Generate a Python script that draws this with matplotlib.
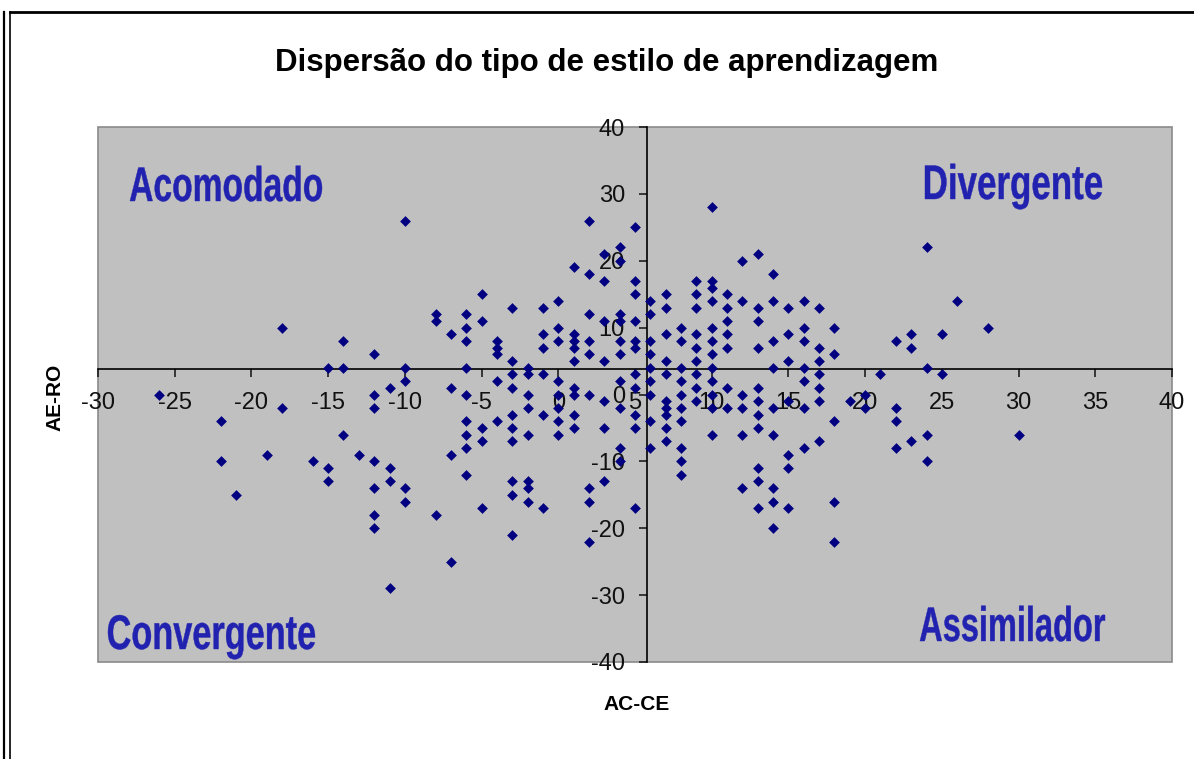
import matplotlib
matplotlib.use('Agg')
import matplotlib.pyplot as plt
from matplotlib.lines import Line2D
from matplotlib.patches import Rectangle, PathPatch
from matplotlib.textpath import TextPath
from matplotlib.font_manager import FontProperties
from matplotlib.transforms import Affine2D

# ---- data (AC-CE, AE-RO) ----
ac_ce = [
    -18, -14, -15, -14, -12, -10, -10, -10, -8, -8, -7,
    -6, -6, -6, -6, -5, -5, -4, -4, -4, -4, -3, -3, -3, -2, -2,
    -1, -1, -1, -1, 0, 0, 0, 0, 1, 1, 1, 1, 1,
    2, 2, 2, 2, 2, 3, 3, 3, 3, 4, 4, 4, 4, 4, 4, 4,
    5, 5, 5, 5, 5, 5, 5,
    10, 12, 13, 14,
    6, 6, 6, 6, 6, 6, 7, 7, 7, 7, 7, 8, 8, 8, 8,
    9, 9, 9, 9, 9, 9, 9, 10, 10, 10, 10, 10, 10, 10, 10,
    11, 11, 11, 11, 11, 12, 13, 13, 13, 14, 14, 14, 15, 15, 15,
    16, 16, 16, 16, 16, 17, 17, 17, 17, 18, 18, 21, 22, 23, 23,
    24, 26, 25, 28, 24, 25,
    -26, -22, -22, -21, -19, -18, -16, -15, -15, -14, -13,
    -12, -12, -11, -7, -6, -3, -2, 0, 1, 1, 2, 3, 4, 5, 5, 5,
    -12, -12, -12, -12, -11, -11, -11, -10, -10, -8, -7, -7,
    -6, -6, -6, -6, -5, -5, -5, -4,
    -3, -3, -3, -3, -3, -3, -2, -2, -2, -2, -2, -1, -1,
    0, 0, 0, 1, 1, 2, 2, 2, 3, 3, 4, 4, 5,
    6, 6, 6, 7, 7, 7, 7, 7, 8, 8, 8, 8, 8, 8, 9, 9,
    10, 10, 10, 11, 11, 12, 12, 12, 12,
    13, 13, 13, 13, 13, 13, 13, 14, 14, 14, 14, 14,
    15, 15, 15, 15, 16, 16, 17, 17, 17, 18, 18, 18,
    19, 20, 20, 22, 22, 22, 23, 24, 24, 30,
]
ae_ro = [
    10, 8, 4, 4, 6, 26, 4, 2, 12, 11, 9,
    12, 10, 8, 4, 15, 11, 8, 7, 6, 2, 13, 5, 3, 4, 3,
    13, 9, 7, 3, 14, 10, 8, 2, 19, 9, 8, 7, 5,
    26, 18, 12, 8, 6, 21, 17, 11, 5, 22, 20, 12, 11, 8, 6, 2,
    25, 17, 15, 11, 8, 7, 3,
    28, 20, 21, 18,
    14, 12, 8, 6, 4, 2, 15, 13, 9, 5, 3, 10, 8, 4, 2,
    17, 15, 13, 9, 7, 5, 3, 17, 16, 14, 10, 8, 6, 4, 2,
    15, 13, 11, 9, 7, 14, 13, 11, 7, 14, 8, 4, 13, 9, 5,
    14, 10, 8, 4, 2, 13, 7, 5, 3, 10, 6, 3, 8, 9, 7,
    22, 14, 9, 10, 4, 3,
    0, -4, -10, -15, -9, -2, -10, -11, -13, -6, -9,
    0, -2, 1, 1, 0, 1, 0, 0, 1, 0, 0, -1, -2, 1, -3, -5,
    -10, -14, -18, -20, -11, -13, -29, -14, -16, -18, -9, -25,
    -4, -6, -8, -12, -5, -7, -17, -4,
    -3, -5, -7, -13, -15, -21, -2, -6, -13, -14, -16, -3, -17,
    -2, -4, -6, -3, -5, -14, -16, -22, -5, -13, -8, -10, -17,
    0, -4, -8, -1, -2, -3, -5, -7, 0, -2, -4, -8, -10, -12, 1, -1,
    0, -2, -6, 1, -2, 0, -2, -6, -14,
    1, -1, -3, -5, -11, -13, -17, -2, -6, -14, -16, -20,
    -1, -9, -11, -17, -2, -8, 1, -1, -7, -4, -16, -22,
    -1, 0, -2, -2, -4, -8, -7, -6, -10, -6,
]
x_ticks = list(range(-30, 41, 5))
y_ticks = list(range(-40, 41, 10))
title = "Dispersão do tipo de estilo de aprendizagem"
x_label = "AC-CE"
y_label = "AE-RO"
quadrant_labels = ["Acomodado", "Divergente", "Convergente", "Assimilador"]
x_cross = 5.75
y_cross = 3.76

W, H = 1194, 759
plt.rcParams['font.family'] = ['Liberation Sans', 'DejaVu Sans']

fig = plt.figure(figsize=(W / 100, H / 100), dpi=100)
fig.patch.set_facecolor('white')

def fx(px):
    return px / W

def fy(py):
    return 1 - py / H

ax = fig.add_axes([fx(98), fy(662), (1172 - 98) / W, (662 - 127) / H])
ax.set_facecolor('#c0c0c0')
ax.scatter(ac_ce, ae_ro, marker='D', s=30, color='#000080',
           linewidths=0, zorder=3, clip_on=False)
ax.set_xlim(-30, 40)
ax.set_ylim(-40, 40)
ax.set_xticks(x_ticks)
ax.set_yticks(y_ticks)
ax.set_xticklabels([str(v) for v in x_ticks])
ax.set_yticklabels([str(v) for v in y_ticks])

for s in ('top', 'right'):
    ax.spines[s].set_visible(False)
ax.spines['left'].set_position(('data', x_cross))
ax.spines['bottom'].set_position(('data', y_cross))
for s in ('left', 'bottom'):
    ax.spines[s].set_linewidth(1.2)
    ax.spines[s].set_color('black')
    ax.spines[s].set_zorder(2)

ax.tick_params(axis='both', direction='out', length=5.5, width=1.1,
               labelsize=17, colors='#111111')
ax.tick_params(axis='x', pad=11)
ax.tick_params(axis='y', pad=10)

ax.add_patch(Rectangle((0, 0), 1, 1, transform=ax.transAxes, fill=False,
                       edgecolor='#8a8a8a', lw=1.2, clip_on=False, zorder=1))

# title and axis labels
fig.text(fx(607), fy(63), title, ha='center', va='center',
         fontsize=22.5, fontweight='bold', color='black')
fig.text(fx(637), fy(705), x_label, ha='center', va='center',
         fontsize=15, fontweight='bold', color='black')
fig.text(fx(55), fy(397), y_label, ha='center', va='center', rotation=90,
         fontsize=15, fontweight='bold', color='black')

# quadrant labels (condensed bold, drawn as text paths)
qfp = FontProperties(family='Liberation Sans', weight='bold')
qcol = '#2222b0'

def quad_text(s, left, right, baseline, cap):
    tp = TextPath((0, 0), s, size=100, prop=qfp)
    ext = tp.get_extents()
    sx = (right - left) / ext.width
    sy = cap / 72.0
    tr = Affine2D().translate(-ext.x0, 0).scale(sx, sy).translate(left, H - baseline)
    fig.add_artist(PathPatch(tp, transform=tr, facecolor=qcol, edgecolor=qcol, lw=0.3))

quad_text(quadrant_labels[0], 130, 322, 201, 35)
quad_text(quadrant_labels[1], 925, 1102, 199, 35)
quad_text(quadrant_labels[2], 108, 315, 649, 35)
quad_text(quadrant_labels[3], 920, 1105, 641, 35)

# chart frame
fig.add_artist(Line2D([fx(4), fx(4)], [fy(12), 0], transform=fig.transFigure,
                      color='black', lw=1.6))
fig.add_artist(Line2D([fx(10), fx(10)], [fy(12), 0], transform=fig.transFigure,
                      color='black', lw=1.2))
fig.add_artist(Line2D([fx(10), 1], [fy(12), fy(12)], transform=fig.transFigure,
                      color='black', lw=2.0))

fig.savefig('out.png', dpi=100)
